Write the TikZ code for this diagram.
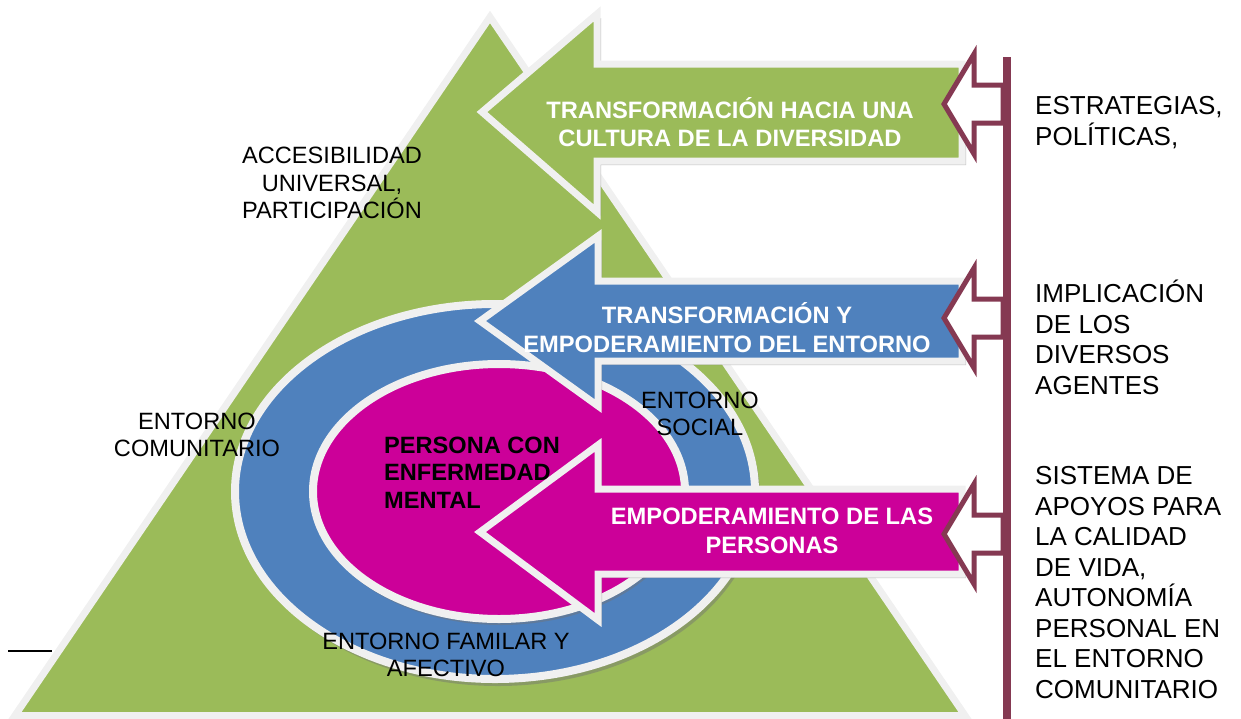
\documentclass[tikz,border=0pt]{standalone}
\usepackage{fontspec}
\setmainfont{Liberation Sans}
\definecolor{tgreen}{RGB}{155,187,89}
\definecolor{tblue}{RGB}{79,129,189}
\definecolor{tmag}{RGB}{204,0,153}
\definecolor{tmaroon}{RGB}{133,57,82}
\definecolor{tborder}{RGB}{240,240,240}
\tikzset{
  rim/.style={draw=tborder, line width=7, line join=miter},
  shade/.style={fill=black!55, opacity=0.45},
  hollow/.style={draw=tmaroon, fill=white, line width=5, line join=miter},
  lbl/.style={font=\fontsize{23.6}{27.5}\selectfont, align=center, inner sep=0},
  rlbl/.style={font=\fontsize{26}{30.5}\selectfont, align=left, anchor=west, inner sep=0},
  albl/.style={font=\fontsize{23.7}{28.5}\selectfont\bfseries, text=white, align=center, inner sep=0},
  blbl/.style={font=\fontsize{23.6}{27.5}\selectfont\bfseries, align=left, anchor=west, inner sep=0}
}
\begin{document}
\begin{tikzpicture}[x=1pt,y=-1pt]
\useasboundingbox (0,0) rectangle (1241,718);
% triangle
\draw[rim, fill=tgreen] (490,17) -- (965,715.5) -- (15,715.5) -- cycle;
% ellipses
\fill[shade] (498,496) ellipse [x radius=262, y radius=190];
\draw[rim, line width=8, fill=tblue] (495,491.5) ellipse [x radius=260, y radius=187.5];
\fill[shade] (501,496) ellipse [x radius=188, y radius=129];
\draw[rim, line width=8, fill=tmag] (499,491.5) ellipse [x radius=186, y radius=127.5];
% colored arrows
\fill[shade] (486,116) -- (601,18) -- (601,68) -- (966,68) -- (966,165) -- (601,165) -- (601,216) -- cycle;
\draw[rim, fill=tgreen] (482,112) -- (597,14) -- (597,64) -- (962,64) -- (962,161) -- (597,161) -- (597,212) -- cycle;
\fill[shade] (484,325) -- (602,240) -- (602,285) -- (966,285) -- (966,365) -- (602,365) -- (602,410) -- cycle;
\draw[rim, fill=tblue] (480,321) -- (598,236) -- (598,281) -- (962,281) -- (962,361) -- (598,361) -- (598,406) -- cycle;
\fill[shade] (484,536) -- (602,449) -- (602,493) -- (966,493) -- (966,578) -- (602,578) -- (602,624) -- cycle;
\draw[rim, fill=tmag] (480,532) -- (598,445) -- (598,489) -- (962,489) -- (962,574) -- (598,574) -- (598,620) -- cycle;
% arrow texts
\node[albl] (a1) at (730,122) {TRANSFORMACIÓN HACIA UNA\\CULTURA DE LA DIVERSIDAD};
\node[albl] (a2) at (727,327.5) {TRANSFORMACIÓN Y\\EMPODERAMIENTO DEL ENTORNO};
\node[albl] (a3) at (772,531) {EMPODERAMIENTO DE LAS\\PERSONAS};
% left texts
\node[lbl] (acc) at (332,183) {ACCESIBILIDAD\\UNIVERSAL,\\PARTICIPACIÓN};
\node[lbl] (com) at (197,435) {ENTORNO\\COMUNITARIO};
\node[lbl] (soc) at (700,414) {ENTORNO\\SOCIAL};
\node[blbl] (per) at (384,472.5) {PERSONA CON\\ENFERMEDAD\\MENTAL};
\node[lbl] (fam) at (446,655) {ENTORNO FAMILAR Y\\AFECTIVO};
\draw[line width=1.5] (8,651) -- (52,651);
% maroon bracket
\draw[tmaroon, line width=7.5] (1007,57) -- (1007,720);
\foreach \yc in {104,318,534}{
  \draw[hollow] (944,\yc) -- (974,\yc-50) -- (974,\yc-19) -- (1003,\yc-19) -- (1003,\yc+19) -- (974,\yc+19) -- (974,\yc+50) -- cycle;
}
% right texts
\node[rlbl] (r1) at (1035,122.5) {ESTRATEGIAS,\\POLÍTICAS,};
\node[rlbl] (r2) at (1035,337.5) {IMPLICACIÓN\\DE LOS\\DIVERSOS\\AGENTES};
\node[rlbl] (r3) at (1035,582.5) {SISTEMA DE\\APOYOS PARA\\LA CALIDAD\\DE VIDA,\\AUTONOMÍA\\PERSONAL EN\\EL ENTORNO\\COMUNITARIO};
\end{tikzpicture}
\end{document}
